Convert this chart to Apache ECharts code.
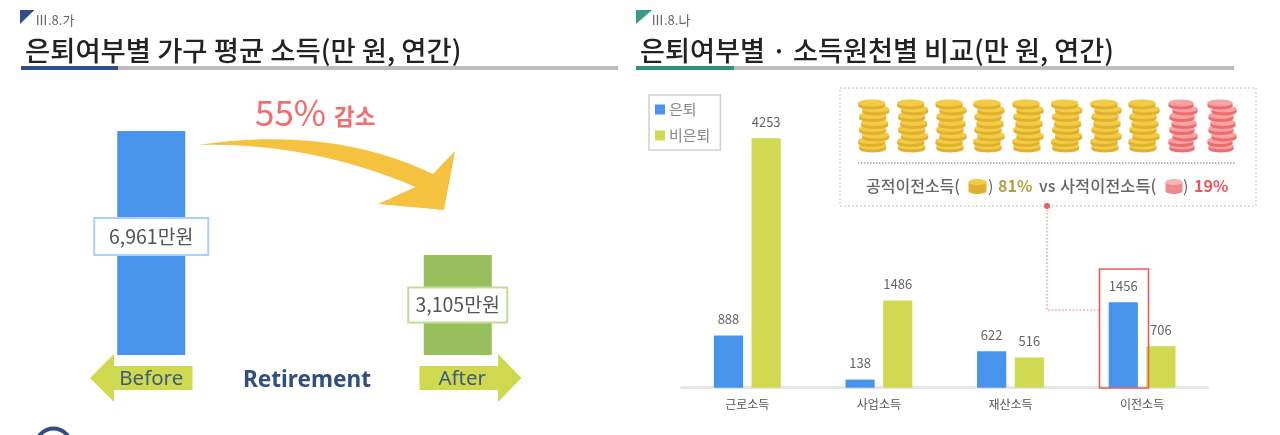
<!DOCTYPE html>
<html><head><meta charset="utf-8">
<style>html,body{margin:0;padding:0;background:#fff}#c{width:1280px;height:435px;filter:blur(.5px)}</style>
<script src="https://cdn.jsdelivr.net/npm/echarts@6/dist/echarts.min.js"></script>
</head><body><div id="c"></div>
<script>
const KR = '"Noto Sans CJK KR","Noto Sans",sans-serif';
const periods = ['Before', 'After'];
const incomeValues = [6961, 3105];
const incomeLabels = ['6,961만원', '3,105만원'];
const sources = ['근로소득', '사업소득', '재산소득', '이전소득'];
const retired = [888, 138, 622, 1456];
const notRetired = [4253, 1486, 516, 706];
const titleLeft = '은퇴여부별 가구 평균 소득(만 원, 연간)';
const titleRight = '은퇴여부별 · 소득원천별 비교(만 원, 연간)';
const coinStackXs = [872.7, 911.7, 950, 988, 1027, 1065.7, 1105, 1143, 1182, 1221];
const coinLayers = [[0, 147.5], [-1, 142], [3, 136.5], [0, 130], [2, 124], [0, 117], [3, 110.5], [-1, 104.5]];

const txt = (x, y, text, size, fill, extra) => ({type: 'text', x, y, silent: true, z: 5,
  style: Object.assign({text, fontSize: size, fill, fontFamily: KR, textVerticalAlign: 'middle'}, extra || {})});
const rect = (x, y, w, h, fill, z) => ({type: 'rect', shape: {x, y, width: w, height: h}, style: {fill}, silent: true, z: z || 1});
const coin = (cx, cy, rx, ry, base, top, th) => [
  {type: 'ellipse', shape: {cx, cy: cy + th, rx, ry}, style: {fill: base}, silent: true, z: 2},
  {type: 'rect', shape: {x: cx - rx, y: cy, width: rx * 2, height: th}, style: {fill: base}, silent: true, z: 2},
  {type: 'ellipse', shape: {cx, cy, rx, ry}, style: {fill: top}, silent: true, z: 2}
];
// sweep arrow outline: quadratic edges flattened into a polygon
const quad = (a, c, b) => { const o = []; for (let i = 0; i <= 16; i++) { const t = i / 16, u = 1 - t;
  o.push([u * u * a[0] + 2 * u * t * c[0] + t * t * b[0], u * u * a[1] + 2 * u * t * c[1] + t * t * b[1]]); } return o; };
const sweepArrow = [
  ...quad([198, 145], [330, 125], [433, 174]),
  [455, 151], [444, 210], [378, 204],
  ...quad([415.5, 187], [310, 142], [198, 145])
];
const g = [];
// headers
g.push({type: 'polygon', shape: {points: [[20, 10], [34.5, 10], [20, 24]]}, style: {fill: '#2f4f8a'}, silent: true});
g.push(txt(35, 20, 'Ⅲ.8.가', 13, '#666'));
g.push(txt(25, 51, titleLeft, 27.4, '#222', {fontWeight: 500}));
g.push(rect(21, 66, 597, 4, '#bdbdbd'), rect(21, 66, 97, 4, '#2f4f8a', 2));
g.push({type: 'polygon', shape: {points: [[636, 10], [652, 10], [636, 24]]}, style: {fill: '#3a9a8a'}, silent: true});
g.push(txt(651, 20, 'Ⅲ.8.나', 13, '#666'));
g.push(txt(640, 51, titleRight, 27.2, '#222', {fontWeight: 500}));
g.push(rect(636, 66, 598, 4, '#bdbdbd'), rect(636, 66, 98, 4, '#2f8f80', 2));
// left decoration
g.push({type: 'polygon', silent: true, shape: {points: sweepArrow}, style: {fill: '#f5c23f'}});
g.push(txt(255, 113, '55%', 35, '#f26d6d'));
g.push(txt(334, 116, '감소', 22.5, '#f26d6d', {fontWeight: 700}));
g.push({type: 'polygon', silent: true, z: -1, shape: {points: [[90, 378], [114, 354], [114, 366], [192.5, 366], [192.5, 390], [114, 390], [114, 402]]}, style: {fill: '#cfd94f'}});
g.push({type: 'polygon', silent: true, z: -1, shape: {points: [[521.5, 378], [498, 354], [498, 366], [419.5, 366], [419.5, 390], [498, 390], [498, 402]]}, style: {fill: '#cfd94f'}});
g.push(txt(243, 381, 'Retirement', 22.6, '#2f4f82', {fontWeight: 700, fontFamily: '"Noto Sans",sans-serif'}));
g.push({type: 'circle', silent: true, shape: {cx: 53.5, cy: 446, r: 17.5}, style: {fill: 'none', stroke: '#2f4f82', lineWidth: 4}});
// right callout
g.push({type: 'rect', silent: true, shape: {x: 840, y: 88, width: 416, height: 118}, style: {fill: '#fff', stroke: '#c4c4c4', lineWidth: 1, lineDash: [2, 2]}});
coinStackXs.forEach((x, i) => {
  const red = i >= 8;
  coinLayers.forEach(([dx, y]) => g.push(...coin(x + dx, y - 1.5, red ? 12.5 : 13.5, 3.4, red ? '#ee6a6e' : '#e0b030', red ? '#f7a3a3' : '#f4cb45', 3)));
});
g.push({type: 'line', silent: true, shape: {x1: 858, y1: 163, x2: 1236, y2: 163}, style: {stroke: '#777', lineWidth: 1, lineDash: [1.5, 1.5]}});
g.push(txt(866, 186, '공적이전소득(', 16, '#666', {fontWeight: 500}));
g.push(...coin(977.5, 182, 9, 3, '#e0b030', '#f4cb45', 9));
g.push(txt(988, 186, ')', 16, '#666'));
g.push(txt(998, 186, '81%', 16, '#b5a040', {fontWeight: 700}));
g.push(txt(1039, 186, 'vs', 16, '#666', {fontWeight: 500}));
g.push(txt(1060, 186, '사적이전소득(', 16.4, '#666', {fontWeight: 500}));
g.push(...coin(1174, 182, 8.5, 3, '#ef8a8c', '#f7b5b5', 9));
g.push(txt(1183, 186, ')', 16, '#666'));
g.push(txt(1194, 186, '19%', 16, '#e8555f', {fontWeight: 700}));
g.push({type: 'polyline', silent: true, z: 6, shape: {points: [[1047, 206], [1047, 310], [1099, 310]]}, style: {fill: 'none', stroke: '#f58a8a', lineWidth: 1, lineDash: [2, 1.5]}});
g.push({type: 'circle', silent: true, z: 6, shape: {cx: 1047, cy: 206, r: 3}, style: {fill: '#ee5a60'}});
g.push({type: 'rect', silent: true, z: 20, shape: {x: 1099.5, y: 269, width: 49, height: 119}, style: {fill: 'none', stroke: '#ee5a5a', lineWidth: 1.6}});

const valueLabel = {show: true, position: 'top', distance: 10, fontSize: 13, color: '#666', fontFamily: KR};
const boxLabel = (border, dy, w, h) => ({show: true, position: 'inside', offset: [0, dy], formatter: p => incomeLabels[p.dataIndex],
  width: w, height: h, lineHeight: h, align: 'center', verticalAlign: 'middle', backgroundColor: '#fff', borderColor: border, borderWidth: 2,
  fontSize: 19.5, color: '#555', fontFamily: KR});

const option = {
  animation: false, backgroundColor: '#fff',
  legend: {data: ['은퇴', '비은퇴'], orient: 'vertical', left: 649, top: 95, padding: [7, 10, 7, 6], itemWidth: 10, itemHeight: 10, itemGap: 11,
    borderColor: '#cfcfcf', borderWidth: 1.5, selectedMode: false, icon: 'rect',
    textStyle: {fontSize: 15, color: '#888', fontFamily: KR, padding: [0, 0, 0, -1]}},
  grid: [
    {left: -2, width: 613, top: 129.7, height: 225.3, outerBoundsMode: 'none'},
    {left: 681.5, width: 526.4, top: 123.8, height: 263.9, outerBoundsMode: 'none'}
  ],
  xAxis: [
    {type: 'category', gridIndex: 0, data: [{value: periods[0]}, {value: periods[1], textStyle: {padding: [0, 0, 0, 9]}}],
      axisLine: {show: false}, axisTick: {show: false},
      axisLabel: {margin: 14, fontSize: 20.5, color: '#3d5a80', fontFamily: '"Noto Sans",sans-serif'}},
    {type: 'category', gridIndex: 1, data: sources,
      axisLine: {lineStyle: {color: '#e6e6e6', width: 3}}, axisTick: {show: false},
      axisLabel: {margin: 11, fontSize: 12, color: '#555', fontFamily: KR}}
  ],
  yAxis: [
    {type: 'value', gridIndex: 0, min: 0, max: 7000, show: false},
    {type: 'value', gridIndex: 1, min: 0, max: 4500, show: false}
  ],
  graphic: {elements: g},
  series: [
    {name: '소득', type: 'bar', xAxisIndex: 0, yAxisIndex: 0, barWidth: 68,
      data: [
        {value: incomeValues[0], itemStyle: {color: '#4894ec'}, label: boxLabel('#a9d0fb', -6.5, 112, 35)},
        {value: incomeValues[1], itemStyle: {color: '#97c05c'}, label: boxLabel('#c2dc94', 0, 97, 33)}
      ]},
    {name: '은퇴', type: 'bar', xAxisIndex: 1, yAxisIndex: 1, barWidth: 29.2, barGap: '29%', itemStyle: {color: '#4894ec'}, label: valueLabel, data: retired},
    {name: '비은퇴', type: 'bar', xAxisIndex: 1, yAxisIndex: 1, barWidth: 29.2, itemStyle: {color: '#cfda52'}, label: valueLabel, data: notRetired}
  ]
};
echarts.init(document.getElementById('c')).setOption(option);
</script></body></html>
